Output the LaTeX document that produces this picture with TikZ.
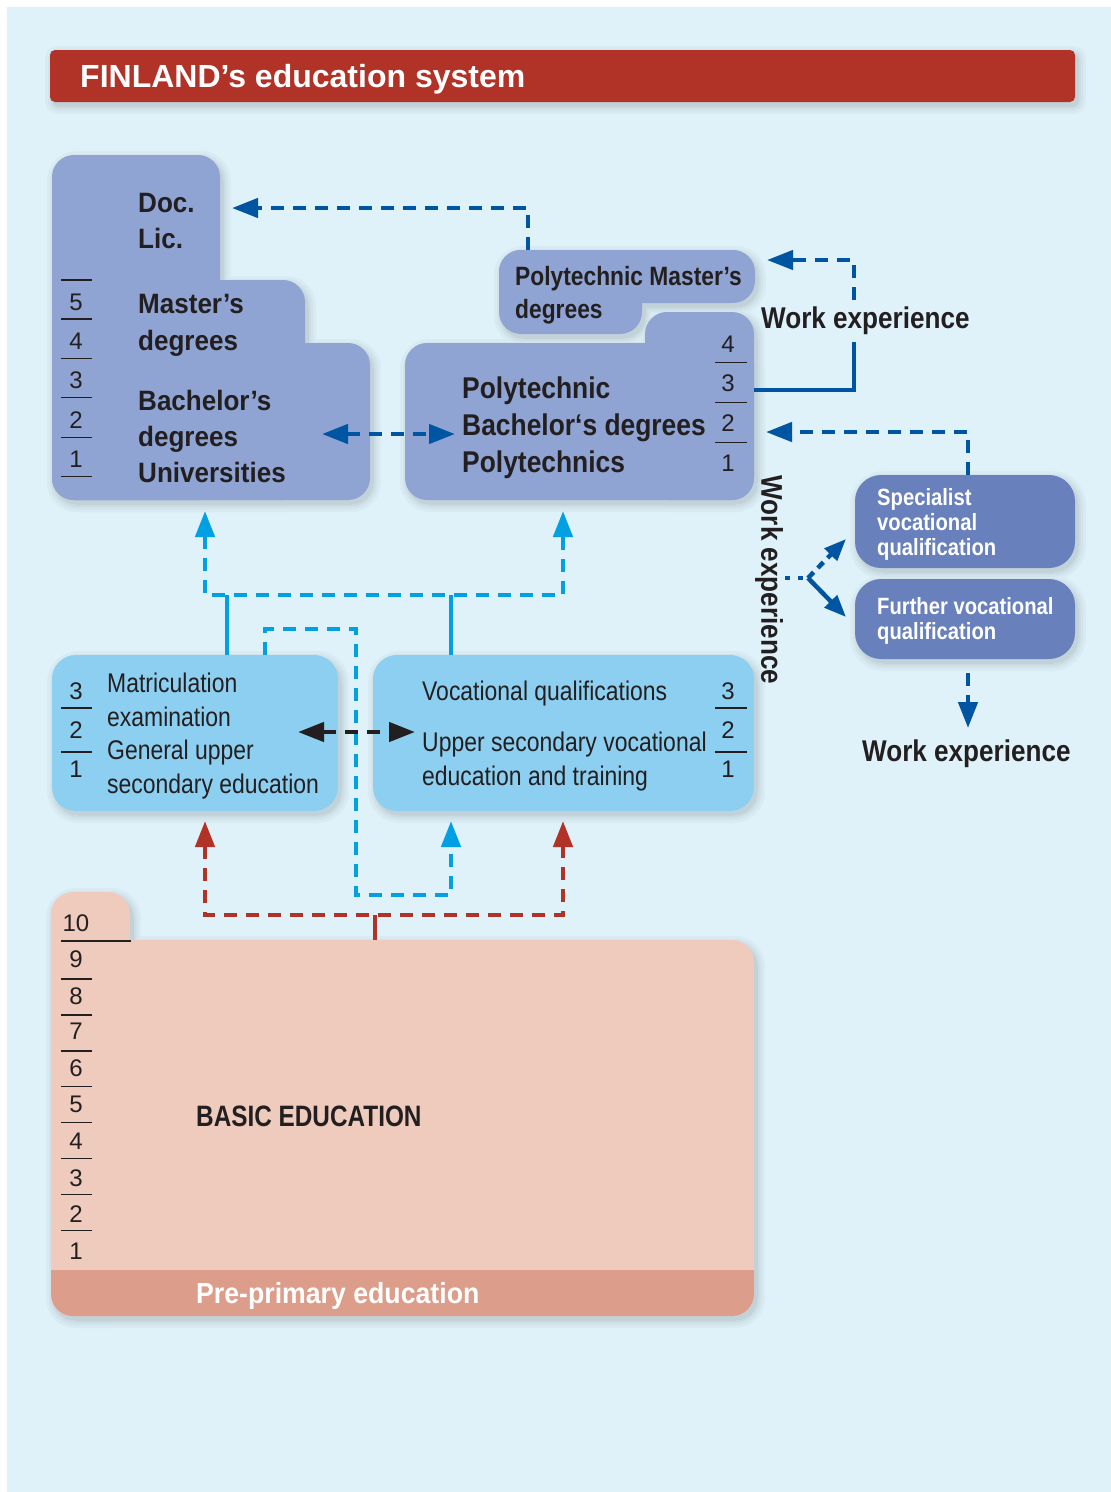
\documentclass[tikz,border=0pt]{standalone}
\usepackage{fontspec}
\setmainfont{Liberation Sans}
\newfontfamily\fnU{Liberation Sans}[FakeStretch=0.93]
\newfontfamily\fnM{Liberation Sans}[FakeStretch=0.86]
\newfontfamily\fnB{Liberation Sans}[FakeStretch=0.88]
\newfontfamily\fnW{Liberation Sans}[FakeStretch=0.87]
\newfontfamily\fnA{Liberation Sans}[FakeStretch=0.85]
\newfontfamily\fnC{Liberation Sans}[FakeStretch=0.825]
\newfontfamily\fnS{Liberation Sans}[FakeStretch=0.86]
\newfontfamily\fnP{Liberation Sans}[FakeStretch=0.92]
\usetikzlibrary{arrows.meta}
\definecolor{bg}{HTML}{DFF1F9}
\definecolor{titlered}{HTML}{B13227}
\definecolor{peri}{HTML}{8FA4D2}
\definecolor{peridark}{HTML}{6881BD}
\definecolor{seclight}{HTML}{8DCFF0}
\definecolor{salmon}{HTML}{EECBBC}
\definecolor{band}{HTML}{DC9E8A}
\definecolor{dblue}{HTML}{0055A3}
\definecolor{cyanl}{HTML}{00A0E3}
\definecolor{txt}{HTML}{231F20}
% one layer of the soft shadows of every box
\newcommand\shlayer[2]{%
 \begin{scope}[shift={(3,4)},every path/.style={draw=bg!#2!black,fill=bg!#2!black,line width=#1pt}]
  \path[rounded corners=5pt] (50,50) rectangle (1075,102);
  \path[rounded corners=22pt] (52,155) rectangle (220,500);
  \path[rounded corners=22pt] (52,280) rectangle (305,500);
  \path[rounded corners=22pt] (52,343) rectangle (370,500);
  \path[rounded corners=22pt] (499,250) rectangle (755,303);
  \path[rounded corners=22pt] (499,250) rectangle (642,334);
  \path[rounded corners=22pt] (405,343) rectangle (754,500);
  \path[rounded corners=22pt] (645,312) rectangle (754,500);
  \path[rounded corners=26pt] (855,475) rectangle (1075,568);
  \path[rounded corners=26pt] (855,579) rectangle (1075,659);
  \path[rounded corners=24pt] (52,655) rectangle (338,811);
  \path[rounded corners=24pt] (373,655) rectangle (754,811);
  \path[rounded corners=22pt] (51,892) rectangle (130,1316);
  \path[rounded corners=22pt] (51,940) rectangle (754,1316);
 \end{scope}}
\tikzset{
  lbl/.style={anchor=base west,inner sep=0pt,text=txt},
  num/.style={anchor=base,inner sep=0pt,text=txt,font=\fontsize{24}{24}\selectfont},
  tickl/.style={line width=1.4pt,draw=txt},
  arr/.style={-{Triangle[length=26pt,width=19pt]}},
  arrb/.style={{Triangle[length=26pt,width=19pt]}-{Triangle[length=26pt,width=19pt]}},
  arrs/.style={-{Triangle[length=22pt,width=17pt]}},
  dbline/.style={draw=dblue,line width=4.5pt,dash pattern=on 13pt off 9pt},
  dbsolid/.style={draw=dblue,line width=4.5pt},
  cyline/.style={draw=cyanl,line width=4.5pt,dash pattern=on 13pt off 9pt},
  cysolid/.style={draw=cyanl,line width=4.5pt},
  rdline/.style={draw=titlered,line width=4.5pt,dash pattern=on 13pt off 9pt},
  rdsolid/.style={draw=titlered,line width=4.5pt},
  bkline/.style={draw=txt,line width=4.5pt,dash pattern=on 13pt off 9pt},
}
\begin{document}
\begin{tikzpicture}[x=1pt,y=-1pt]
\useasboundingbox (0,0) rectangle (1111,1492);
\fill[white] (0,0) rectangle (1111,1492);
\fill[bg] (7,7) rectangle (1111,1492);

% ---------- shadows ----------
\shlayer{16}{97}
\shlayer{10}{94}
\shlayer{5}{91}
\shlayer{0}{87}

% ---------- fills ----------
\fill[titlered,rounded corners=5pt] (50,50) rectangle (1075,102);
\begin{scope}[fill=peri,rounded corners=22pt]
  \fill (52,155) rectangle (220,500);
  \fill (52,280) rectangle (305,500);
  \fill (52,343) rectangle (370,500);
  \fill (499,250) rectangle (755,303);
  \fill (499,250) rectangle (642,334);
  \fill (405,343) rectangle (754,500);
  \fill (645,312) rectangle (754,500);
\end{scope}
\fill[peridark,rounded corners=26pt] (855,475) rectangle (1075,568);
\fill[peridark,rounded corners=26pt] (855,579) rectangle (1075,659);
\fill[seclight,rounded corners=24pt] (52,655) rectangle (338,811);
\fill[seclight,rounded corners=24pt] (373,655) rectangle (754,811);
\fill[salmon,rounded corners=22pt] (51,892) rectangle (130,1316);
\fill[salmon,rounded corners=22pt] (51,940) rectangle (754,1316);
\begin{scope}
  \clip[rounded corners=22pt] (51,940) rectangle (754,1316);
  \fill[band] (40,1270) rectangle (760,1320);
\end{scope}

% ---------- coordinates ----------
\coordinate (pmTop) at (528,250);
\coordinate (pmBend) at (528,208);
\coordinate (docArr) at (232,208);
\coordinate (uniR) at (322,434);
\coordinate (polyL) at (455,434);
\coordinate (pR) at (754,390);
\coordinate (wk1) at (854,390);
\coordinate (wk2) at (854,342);
\coordinate (wk3) at (854,300);
\coordinate (wk4) at (854,260);
\coordinate (pmR) at (767,260);
\coordinate (spT) at (968,475);
\coordinate (sp2) at (968,432);
\coordinate (polyR) at (766,432);
\coordinate (br0) at (785,578);
\coordinate (br1) at (808,578);
\coordinate (spL) at (846,539);
\coordinate (fuL) at (846,617);
\coordinate (fuB) at (968,673);
\coordinate (wkB) at (968,728);
\coordinate (gsT) at (227,655);
\coordinate (j1) at (227,595);
\coordinate (vsT) at (451,655);
\coordinate (j2) at (451,595);
\coordinate (h1) at (205,595);
\coordinate (h2) at (563,595);
\coordinate (uniB) at (205,511);
\coordinate (polyB) at (563,511);
\coordinate (lp0) at (265,655);
\coordinate (lp1) at (265,629);
\coordinate (lp2) at (356,629);
\coordinate (lp3) at (356,895);
\coordinate (lp4) at (451,895);
\coordinate (vsB) at (451,821);
\coordinate (beT) at (375,940);
\coordinate (r1) at (375,915);
\coordinate (rh1) at (205,915);
\coordinate (rh2) at (563,915);
\coordinate (gsB) at (205,821);
\coordinate (vsB2) at (563,821);
\coordinate (gsR) at (298,732);
\coordinate (vsL) at (415,732);

% ---------- connectors ----------
\draw[cysolid] (gsT) -- (j1);
\draw[cysolid] (vsT) -- (j2);
\draw[cyline,arrb] (uniB) -- (h1) -- (h2) -- (polyB);
\draw[cyline,arr] (lp0) -- (lp1) -- (lp2) -- (lp3) -- (lp4) -- (vsB);
\draw[rdsolid] (beT) -- (r1);
\draw[rdline,arrb] (gsB) -- (rh1) -- (rh2) -- (vsB2);
\draw[bkline,arrb] (gsR) -- (vsL);
\draw[dbline,arr] (pmTop) -- (pmBend) -- (docArr);
\draw[dbline,arrb] (uniR) -- (polyL);
\draw[dbsolid] (pR) -- (wk1) -- (wk2);
\draw[dbline,arr] (wk3) -- (wk4) -- (pmR);
\draw[dbline,arr] (spT) -- (sp2) -- (polyR);
\draw[draw=dblue,line width=4.5pt,dash pattern=on 5pt off 8pt] (br0) -- (br1);
\draw[dbline,dash pattern=on 8pt off 6pt,arrs] (br1) -- (spL);
\draw[dbsolid,arrs] (br1) -- (fuL);
\draw[dbline,arr] (fuB) -- (wkB);

% ---------- title ----------
\node[lbl,text=white,font=\fontsize{32}{36}\selectfont\bfseries] (title) at (80,87.5) {FINLAND’s education system};

% ---------- universities ----------
\begin{scope}[every node/.append style={font=\fnU\fontsize{28}{34}\selectfont\bfseries}]
\node[lbl] (doc) at (138,212) {Doc.};
\node[lbl] (lic) at (138,248) {Lic.};
\node[lbl] (mas1) at (138,313.5) {Master’s};
\node[lbl] (mas2) at (138,350) {degrees};
\node[lbl] (bac1) at (138,410) {Bachelor’s};
\node[lbl] (bac2) at (138,446) {degrees};
\node[lbl] (uni) at (138,482) {Universities};
\end{scope}
\foreach \yy in {280,319,358.3,397.7,437.3,476.7} \draw[tickl] (61,\yy) -- (92,\yy);
\node[num] (u5) at (76,310.1) {5};
\node[num] (u4) at (76,349.6) {4};
\node[num] (u3) at (76,388.6) {3};
\node[num] (u2) at (76,428.6) {2};
\node[num] (u1) at (76,467.6) {1};

% ---------- polytechnics ----------
\node[lbl,font=\fnM\fontsize{26.5}{30}\selectfont\bfseries] (pm1) at (515,285) {Polytechnic Master’s};
\node[lbl,font=\fnM\fontsize{26.5}{30}\selectfont\bfseries] (pm2) at (515,318.5) {degrees};
\begin{scope}[every node/.append style={font=\fnB\fontsize{30}{34}\selectfont\bfseries}]
\node[lbl] (pb1) at (462,398.7) {Polytechnic};
\node[lbl] (pb2) at (462,435.7) {Bachelor‘s degrees};
\node[lbl] (pb3) at (462,472.7) {Polytechnics};
\end{scope}
\foreach \yy in {362.3,402.3,442.3} \draw[tickl] (715,\yy) -- (747,\yy);
\node[num] (p4) at (728,352.1) {4};
\node[num] (p3) at (728,391.6) {3};
\node[num] (p2) at (728,431.6) {2};
\node[num] (p1) at (728,471.6) {1};

% ---------- work experience ----------
\node[lbl,font=\fnW\fontsize{30}{34}\selectfont\bfseries] (we1) at (761,328.7) {Work experience};
\node[anchor=center,inner sep=0pt,text=txt,text height=21.5pt,text depth=0pt,rotate=-90,font=\fnW\fontsize{30}{34}\selectfont\bfseries] (we2) at (772,580) {Work experience};
\node[lbl,font=\fnW\fontsize{30}{34}\selectfont\bfseries] (we3) at (862,761.7) {Work experience};

% ---------- specialist ----------
\begin{scope}[every node/.append style={font=\fnS\fontsize{23.5}{26}\selectfont\bfseries}]
\node[lbl,text=white] (sv1) at (877,505.4) {Specialist};
\node[lbl,text=white] (sv2) at (877,530.4) {vocational};
\node[lbl,text=white] (sv3) at (877,555.4) {qualification};
\node[lbl,text=white] (fv1) at (877,614.9) {Further vocational};
\node[lbl,text=white] (fv2) at (877,639.9) {qualification};
\end{scope}

% ---------- upper secondary ----------
\begin{scope}[every node/.append style={font=\fnA\fontsize{27}{32}\selectfont}]
\node[lbl] (gs1) at (107,692.7) {Matriculation};
\node[lbl] (gs2) at (107,726.7) {examination};
\node[lbl] (gs3) at (107,759.7) {General upper};
\node[lbl] (gs4) at (107,793.7) {secondary education};
\node[lbl] (vs1) at (422,700.7) {Vocational qualifications};
\node[lbl] (vs2) at (422,751.2) {Upper secondary vocational};
\node[lbl] (vs3) at (422,785.7) {education and training};
\end{scope}
\foreach \yy in {708,752} {\draw[tickl] (61,\yy) -- (92,\yy); \draw[tickl] (715,\yy) -- (747,\yy);}
\node[num] (g3) at (76,699.6) {3};
\node[num] (g2) at (76,738.6) {2};
\node[num] (g1) at (76,777.6) {1};
\node[num] (v3) at (728,699.6) {3};
\node[num] (v2) at (728,738.6) {2};
\node[num] (v1) at (728,777.6) {1};

% ---------- basic education ----------
\draw[tickl] (61,941) -- (131,941);
\foreach \yy in {979,1015,1051,1086.7,1122.7,1158.7,1194.3,1230.3} \draw[tickl] (61,\yy) -- (92,\yy);
\node[num] (b10) at (76,931.1) {10};
\node[num] (b9) at (76,967.6) {9};
\node[num] (b8) at (76,1004.6) {8};
\node[num] (b7) at (76,1039.6) {7};
\node[num] (b6) at (76,1076.1) {6};
\node[num] (b5) at (76,1112.6) {5};
\node[num] (b4) at (76,1149.6) {4};
\node[num] (b3) at (76,1186.1) {3};
\node[num] (b2) at (76,1222.6) {2};
\node[num] (b1) at (76,1259.6) {1};
\node[lbl,font=\fnC\fontsize{29.5}{34}\selectfont\bfseries] (basic) at (196,1126.6) {BASIC EDUCATION};
\node[lbl,text=white,font=\fnP\fontsize{29}{34}\selectfont\bfseries] (pre) at (196,1303.4) {Pre-primary education};
\end{tikzpicture}
\end{document}
